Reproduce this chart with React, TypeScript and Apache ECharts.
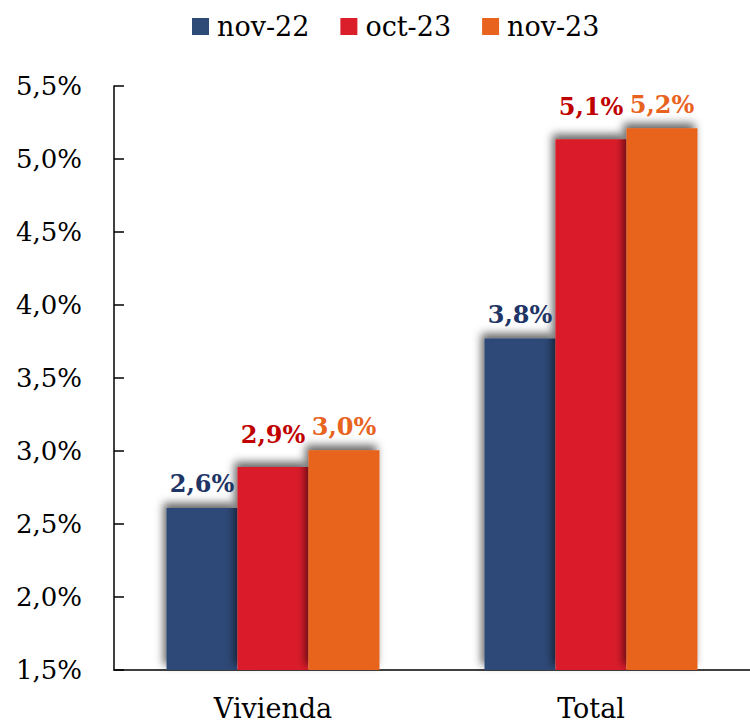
import React, { useEffect, useRef } from "react";
import * as echarts from "echarts";

const categories = ["Vivienda", "Total"];
const seriesNames = ["nov-22", "oct-23", "nov-23"];
const nov22 = [2.61, 3.77];
const oct23 = [2.89, 5.135];
const nov23 = [3.005, 5.21];
const yTicks = { min: 1.5, max: 5.5, interval: 0.5 };

const barColors = ["#2E4A77", "#DA1F2A", "#E8631E"];
const labelColors = ["#1F3566", "#C00000", "#E8631E"];
const labelDistances = [12, 21, 12];

const fmt = (v: number) => v.toFixed(1).replace(".", ",") + "%";

export default function App() {
  const ref = useRef<HTMLDivElement>(null);
  useEffect(() => {
    if (!ref.current) return;
    const chart = echarts.init(ref.current, undefined, { renderer: "svg" });
    const values = [nov22, oct23, nov23];
    const font = "'DejaVu Serif', serif";
    chart.setOption({
      animation: false,
      backgroundColor: "#ffffff",
      legend: {
        top: 8,
        left: 187,
        itemWidth: 17,
        itemHeight: 17,
        itemGap: 31,
        icon: "rect",
        textStyle: {
          fontFamily: font,
          fontSize: 27,
          color: "#000",
          padding: [0, 0, 0, 3],
        },
        data: seriesNames,
      },
      grid: { left: 114, right: 0, top: 86, bottom: 53 },
      xAxis: {
        type: "category",
        data: categories,
        axisLine: { lineStyle: { color: "#000", width: 1.5 } },
        axisTick: { inside: true, length: 10, lineStyle: { color: "#000", width: 1.5 } },
        axisLabel: { fontFamily: font, fontSize: 27, color: "#000", margin: 25 },
      },
      yAxis: {
        type: "value",
        min: yTicks.min,
        max: yTicks.max,
        interval: yTicks.interval,
        splitLine: { show: false },
        axisLine: { show: true, lineStyle: { color: "#000", width: 1.5 } },
        axisTick: { show: true, inside: true, length: 10, lineStyle: { color: "#000", width: 1.5 } },
        axisLabel: {
          fontFamily: font,
          fontSize: 26,
          color: "#000",
          margin: 32,
          formatter: (v: number) => fmt(v),
        },
      },
      series: seriesNames.map((name, i) => ({
        name,
        type: "bar",
        data: values[i],
        barWidth: 71,
        barGap: "0%",
        itemStyle: {
          color: barColors[i],
          shadowColor: "rgba(0,0,0,0.6)",
          shadowBlur: 9,
          shadowOffsetX: -3,
          shadowOffsetY: -5,
        },
        label: {
          show: true,
          position: "top",
          distance: labelDistances[i],
          fontFamily: font,
          fontWeight: "bold",
          fontSize: 24,
          color: labelColors[i],
          formatter: (p: any) => fmt(p.value),
        },
      })),
    });
    return () => chart.dispose();
  }, []);
  return (
    <div
      ref={ref}
      style={{ position: "fixed", left: 0, top: 0, width: 750, height: 723 }}
    />
  );
}
